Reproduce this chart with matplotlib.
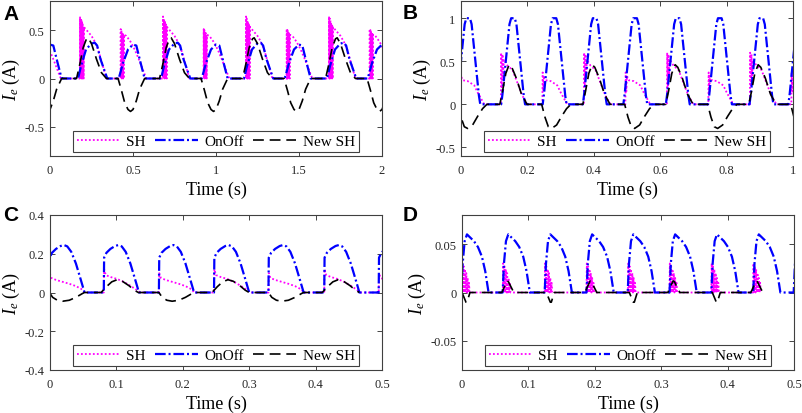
"""Electrode current I_e for SH, OnOff and New SH control, four cases A-D"""

import matplotlib
matplotlib.use("Agg")
from matplotlib import pyplot as plt
import matplotlib.ticker as ticker

plt.rcParams["font.family"] = "Liberation Serif"
plt.rcParams["mathtext.fontset"] = "custom"
plt.rcParams["mathtext.rm"] = "Liberation Serif"
plt.rcParams["mathtext.it"] = "Liberation Serif:italic"
plt.rcParams["axes.unicode_minus"] = False

# ---- panel A: one hump / spike shape (offset from its start, value) and the start times
A_ONOFF_PEAK_T = [0, 0.018, 0.048, 0.08, 0.1, 0.115, 0.135, 0.176]
A_ONOFF_PEAK_V = [0, 0.13, 0.30, 0.36, 0.37, 0.34, 0.20, 0]
A_ONOFF_PEAK_STARTS = [0.169, 0.669, 1.169, 1.669]
A_ONOFF_FLAT_T = [0, 0.026, 0.056, 0.086, 0.106, 0.132, 0.156]
A_ONOFF_FLAT_V = [0, 0.16, 0.30, 0.35, 0.34, 0.16, 0]
A_ONOFF_FLAT_STARTS = [-0.086, 0.414, 0.914, 1.414, 1.914]

A_SH_BIG_T = [0, 0.001, 0.003, 0.005, 0.007, 0.009, 0.011, 0.013, 0.015, 0.017,
              0.019, 0.021, 0.023, 0.025, 0.04, 0.07, 0.09, 0.11, 0.13, 0.16]
A_SH_BIG_V = [0, 0.64, 0, 0.62, 0, 0.60, 0, 0.58, 0, 0.56,
              0, 0.54, 0, 0.53, 0.50, 0.44, 0.38, 0.30, 0.18, 0]
A_SH_BIG_STARTS = [0.18, 0.68, 1.18, 1.68]
A_SH_SMALL_T = [0, 0.001, 0.003, 0.005, 0.007, 0.009, 0.011, 0.013, 0.015, 0.017,
                0.019, 0.021, 0.035, 0.06, 0.085, 0.11, 0.155]
A_SH_SMALL_V = [0, 0.51, 0, 0.50, 0, 0.48, 0, 0.47, 0, 0.46,
                0, 0.45, 0.44, 0.38, 0.30, 0.20, 0]
A_SH_SMALL_STARTS = [-0.09, 0.425, 0.925, 1.425, 1.925]

A_NEW_UP_T = [0, 0.02, 0.04, 0.06, 0.07, 0.09, 0.12, 0.15, 0.18]
A_NEW_UP_V = [0, 0.15, 0.32, 0.41, 0.42, 0.36, 0.20, 0.06, 0]
A_NEW_UP_STARTS = [0.16, 0.66, 1.16, 1.66]
A_NEW_DOWN_T = [0, 0.02, 0.04, 0.06, 0.075, 0.09, 0.11, 0.13, 0.16]
A_NEW_DOWN_V = [0, -0.12, -0.25, -0.32, -0.34, -0.32, -0.23, -0.11, 0]
A_NEW_DOWN_STARTS = [-0.09, 0.41, 0.91, 1.41, 1.91]

# ---- panel B
B_ONOFF_T = [0, 0.004, 0.025, 0.03, 0.041, 0.046, 0.068, 0.072]
B_ONOFF_V = [0, 0.12, 0.93, 1, 1, 0.93, 0.1, 0]
B_ONOFF_STARTS = [-0.014, 0.121, 0.246, 0.367, 0.489, 0.617, 0.744, 0.869, 0.986]

B_SH_BIG_T = [0, 0.001, 0.003, 0.005, 0.007, 0.009, 0.02, 0.035, 0.05, 0.065, 0.08]
B_SH_BIG_V = [0, 0.60, 0.20, 0.58, 0.30, 0.52, 0.45, 0.40, 0.25, 0.10, 0]
B_SH_BIG_STARTS = [0.12, 0.37, 0.62, 0.87]
B_SH_SMALL_T = [0, 0.001, 0.003, 0.005, 0.01, 0.025, 0.045, 0.055, 0.075]
B_SH_SMALL_V = [0, 0.37, 0.15, 0.33, 0.28, 0.27, 0.22, 0.14, 0]
B_SH_SMALL_STARTS = [-0.005, 0.245, 0.495, 0.745, 0.995]

B_NEW_UP_T = [0, 0.008, 0.018, 0.028, 0.036, 0.05, 0.065, 0.082]
B_NEW_UP_V = [0, 0.15, 0.36, 0.46, 0.43, 0.30, 0.12, 0]
B_NEW_UP_STARTS = [0.117, 0.367, 0.617, 0.867]
B_NEW_DOWN_T = [0, 0.01, 0.02, 0.03, 0.045, 0.06, 0.075, 0.088]
B_NEW_DOWN_V = [0, -0.15, -0.26, -0.28, -0.24, -0.14, -0.05, 0]
B_NEW_DOWN_STARTS = [-0.01, 0.243, 0.493, 0.743, 0.993]

# ---- panel C
C_ONOFF_T = [0, 0.0005, 0.004, 0.01, 0.017, 0.022, 0.027, 0.033, 0.04, 0.047, 0.053]
C_ONOFF_V = [0, 0.18, 0.205, 0.225, 0.24, 0.245, 0.238, 0.21, 0.15, 0.07, 0]
C_ONOFF_STARTS = [-0.001, 0.081, 0.164, 0.247, 0.329, 0.413, 0.495]

C_SH_A_T = [0, 0.0005, 0.003, 0.01, 0.02, 0.03, 0.04, 0.05, 0.053]
C_SH_A_V = [0, 0.10, 0.075, 0.065, 0.055, 0.045, 0.033, 0.015, 0]
C_SH_A_STARTS = [-0.001, 0.164, 0.329, 0.495]
C_SH_B_T = [0, 0.0005, 0.003, 0.01, 0.02, 0.03, 0.04, 0.05, 0.055]
C_SH_B_V = [0, 0.12, 0.09, 0.08, 0.07, 0.055, 0.035, 0.012, 0]
C_SH_B_STARTS = [0.081, 0.247, 0.413]

C_NEW_DOWN_T = [0, 0.005, 0.012, 0.02, 0.03, 0.04, 0.05, 0.053]
C_NEW_DOWN_V = [0, -0.025, -0.04, -0.045, -0.04, -0.025, -0.005, 0]
C_NEW_DOWN_STARTS = [-0.001, 0.164, 0.329]
C_NEW_UP_T = [0, 0.008, 0.016, 0.024, 0.032, 0.042, 0.05, 0.056]
C_NEW_UP_V = [0, 0.03, 0.055, 0.066, 0.058, 0.035, 0.012, 0]
C_NEW_UP_STARTS = [0.077, 0.244, 0.41]

# ---- panel D
D_ONOFF_T = [0, 0.002, 0.005, 0.0085, 0.013, 0.019, 0.025, 0.031, 0.036, 0.041]
D_ONOFF_V = [0, 0.03, 0.053, 0.06, 0.057, 0.053, 0.047, 0.037, 0.022, 0]
D_ONOFF_STARTS = [-0.001, 0.0612, 0.1245, 0.1875, 0.2495, 0.3125, 0.3755, 0.4385, 0.4995]

D_SH_T = [0, 0.0005, 0.0015, 0.0025, 0.0035, 0.0045, 0.0055, 0.0065, 0.0075,
          0.0085, 0.0095, 0.0105, 0.0115, 0.0125]
D_SH_V = [0, 0.03, 0, 0.027, 0, 0.024, 0, 0.02, 0, 0.015, 0, 0.01, 0, 0]
D_SH_STARTS = [0, 0.0615, 0.1245, 0.1875, 0.25, 0.3125, 0.3755, 0.4385]

D_NEW_DOWN_T = [0, 0.006, 0.0075, 0.012]
D_NEW_DOWN_V = [0, -0.01, -0.01, 0]
D_NEW_DOWN_STARTS = [0.0, 0.127, 0.252, 0.377]
D_NEW_UP_T = [0, 0.008, 0.01, 0.018]
D_NEW_UP_V = [0, 0.012, 0.011, 0]
D_NEW_UP_STARTS = [0.06, 0.185, 0.31, 0.435]

PANELS = {
    "A": dict(xlim=(0, 2), ylim=(-0.8, 0.8), xticks=[0, 0.5, 1, 1.5, 2], yticks=[-0.5, 0, 0.5],
              sh=[(A_SH_BIG_T, A_SH_BIG_V, A_SH_BIG_STARTS),
                  (A_SH_SMALL_T, A_SH_SMALL_V, A_SH_SMALL_STARTS)],
              onoff=[(A_ONOFF_PEAK_T, A_ONOFF_PEAK_V, A_ONOFF_PEAK_STARTS),
                     (A_ONOFF_FLAT_T, A_ONOFF_FLAT_V, A_ONOFF_FLAT_STARTS)],
              new=[(A_NEW_UP_T, A_NEW_UP_V, A_NEW_UP_STARTS),
                   (A_NEW_DOWN_T, A_NEW_DOWN_V, A_NEW_DOWN_STARTS)]),
    "B": dict(xlim=(0, 1), ylim=(-0.6, 1.2), xticks=[0, 0.2, 0.4, 0.6, 0.8, 1],
              yticks=[-0.5, 0, 0.5, 1],
              sh=[(B_SH_BIG_T, B_SH_BIG_V, B_SH_BIG_STARTS),
                  (B_SH_SMALL_T, B_SH_SMALL_V, B_SH_SMALL_STARTS)],
              onoff=[(B_ONOFF_T, B_ONOFF_V, B_ONOFF_STARTS)],
              new=[(B_NEW_UP_T, B_NEW_UP_V, B_NEW_UP_STARTS),
                   (B_NEW_DOWN_T, B_NEW_DOWN_V, B_NEW_DOWN_STARTS)]),
    "C": dict(xlim=(0, 0.5), ylim=(-0.4, 0.4), xticks=[0, 0.1, 0.2, 0.3, 0.4, 0.5],
              yticks=[-0.4, -0.2, 0, 0.2, 0.4],
              sh=[(C_SH_A_T, C_SH_A_V, C_SH_A_STARTS), (C_SH_B_T, C_SH_B_V, C_SH_B_STARTS)],
              onoff=[(C_ONOFF_T, C_ONOFF_V, C_ONOFF_STARTS)],
              new=[(C_NEW_UP_T, C_NEW_UP_V, C_NEW_UP_STARTS),
                   (C_NEW_DOWN_T, C_NEW_DOWN_V, C_NEW_DOWN_STARTS)]),
    "D": dict(xlim=(0, 0.5), ylim=(-0.08, 0.08), xticks=[0, 0.1, 0.2, 0.3, 0.4, 0.5],
              yticks=[-0.05, 0, 0.05],
              sh=[(D_SH_T, D_SH_V, D_SH_STARTS)],
              onoff=[(D_ONOFF_T, D_ONOFF_V, D_ONOFF_STARTS)],
              new=[(D_NEW_UP_T, D_NEW_UP_V, D_NEW_UP_STARTS),
                   (D_NEW_DOWN_T, D_NEW_DOWN_V, D_NEW_DOWN_STARTS)]),
}

# axes rectangles in figure fractions, label positions in pixels
AX_RECTS = {
    "A": [50 / 803, 1 - 157 / 414, 332 / 803, 155 / 414],
    "B": [461 / 803, 1 - 157 / 414, 332 / 803, 155 / 414],
    "C": [50 / 803, 1 - 371 / 414, 332 / 803, 155 / 414],
    "D": [462 / 803, 1 - 371 / 414, 332 / 803, 155 / 414],
}
LETTER_POS = {"A": (3, 20), "B": (403, 19), "C": (3, 221), "D": (403, 221)}

AX_COLOR = "#404040"


def build_series(parts):
    """Place each hump shape at its start times and join into one polyline"""
    pts = []
    for offsets, values, starts in parts:
        for s in starts:
            pts.extend((s + o, v) for o, v in zip(offsets, values))
    pts.sort()
    t = [p[0] for p in pts]
    v = [p[1] for p in pts]
    return t, v


def plot_panel(ax, cfg):
    t, v = build_series(cfg["sh"])
    ax.plot(t, v, color="#FF00FF", lw=1.3, linestyle=(0, (1, 1.2)), label="SH")
    t, v = build_series(cfg["onoff"])
    ax.plot(t, v, color="#0000FF", lw=1.6, linestyle=(0, (4.8, 1.3, 0.9, 1.3)), label="OnOff")
    t, v = build_series(cfg["new"])
    ax.plot(t, v, color="black", lw=1.2, linestyle=(0, (6.5, 3.5)), label="New SH")

    ax.set_xlim(cfg["xlim"])
    ax.set_ylim(cfg["ylim"])
    ax.set_xticks(cfg["xticks"])
    ax.set_yticks(cfg["yticks"])
    fmt = ticker.FuncFormatter(lambda x, pos: f"{x:g}")
    ax.xaxis.set_major_formatter(fmt)
    ax.yaxis.set_major_formatter(fmt)
    ax.tick_params(direction="in", top=True, right=True, length=3.5, width=0.6,
                   colors="#262626", labelsize=9)
    ax.tick_params(axis="x", pad=6)
    ax.tick_params(axis="y", pad=4)
    for spine in ax.spines.values():
        spine.set_color(AX_COLOR)
        spine.set_linewidth(0.8)

    ax.set_xlabel("Time (s)", fontsize=13, labelpad=3)
    ax.set_ylabel(r"$I_e$ (A)", fontsize=13, labelpad=2)

    leg = ax.legend(loc="lower center", ncol=3, fontsize=11, handlelength=2.8,
                    handletextpad=0.45, columnspacing=0.6, borderpad=0.25,
                    borderaxespad=0.25, fancybox=False, framealpha=1)
    leg.get_frame().set_edgecolor(AX_COLOR)
    leg.get_frame().set_linewidth(0.8)


def main():
    fig = plt.figure(figsize=(8.03, 4.14), dpi=100)
    for name, cfg in PANELS.items():
        ax = fig.add_axes(AX_RECTS[name])
        plot_panel(ax, cfg)
        px, py = LETTER_POS[name]
        fig.text(px / 803, 1 - py / 414, name, family="Liberation Sans",
                 fontweight="bold", fontsize=15, va="baseline", ha="left")
    fig.savefig("out.png", dpi=100)


if __name__ == "__main__":
    main()
